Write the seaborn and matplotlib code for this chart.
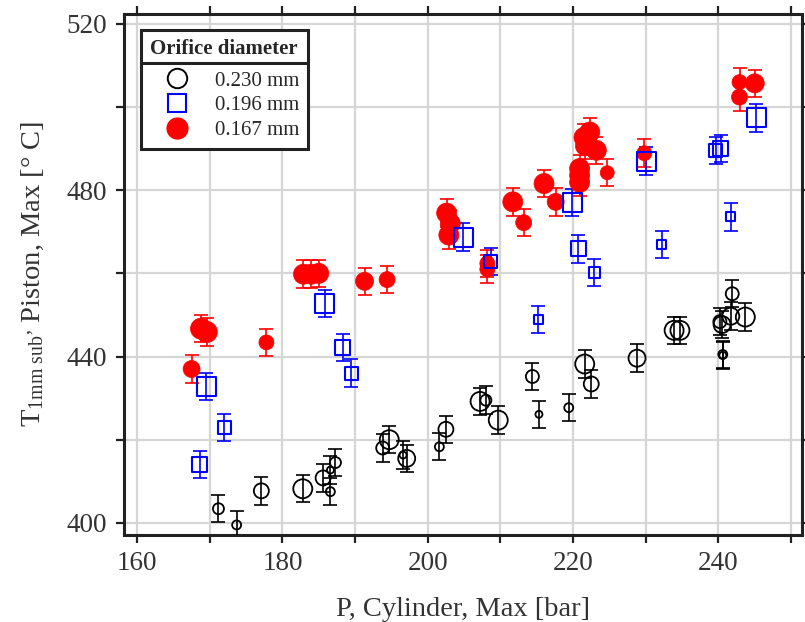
import numpy as np
import pandas as pd
import matplotlib
matplotlib.use("Agg")
import matplotlib.pyplot as plt
import seaborn as sns
from matplotlib.lines import Line2D

# ---------------- data ----------------
legend_title = "Orifice diameter"
diameters = ["0.230 mm", "0.196 mm", "0.167 mm"]

# 0.230 mm (open black circles)
p_230 = [171.2, 173.7, 177.1, 182.8, 185.6, 186.6, 186.6, 187.3, 193.8, 194.7,
         196.6, 197.1, 201.6, 202.5, 207.2, 208.0, 209.7, 214.4, 215.3, 219.4,
         221.6, 222.5, 228.8, 233.9, 234.7, 240.2, 240.5, 240.6, 240.6, 241.9,
         241.7, 243.7]
t_230 = [403.4, 399.5, 407.7, 408.2, 410.8, 407.5, 412.7, 414.5, 418.0, 420.0,
         416.3, 415.5, 418.3, 422.5, 429.2, 429.5, 424.7, 435.2, 426.1, 427.7,
         438.2, 433.4, 439.6, 446.3, 446.3, 448.4, 447.7, 440.5, 440.3, 455.1,
         449.7, 449.5]
e_230 = [3.3] * len(p_230)
w_230 = [2, 1.5, 3, 4, 3, 1.5, 1, 2, 2.5, 4,
         1, 3.5, 1.5, 3, 4, 2, 4, 2.5, 1, 1.5,
         4, 3, 3.5, 4, 4, 2.5, 3.5, 1.5, 1, 2.5,
         3.5, 4]

# 0.196 mm (open blue squares)
p_196 = [168.6, 169.5, 172.0, 185.8, 188.3, 189.5, 204.9, 208.7, 215.2, 219.9,
         220.7, 222.9, 230.1, 232.2, 239.6, 240.3, 241.7, 245.2]
t_196 = [414.0, 432.8, 423.0, 452.8, 442.2, 436.0, 468.7, 462.9, 448.9, 477.0,
         465.9, 460.2, 487.0, 467.0, 489.5, 490.0, 473.6, 497.4]
e_196 = [3.3] * len(p_196)
w_196 = [3, 4, 2.5, 4, 3, 2.5, 4, 2.5, 1.5, 4,
         3, 2, 4, 1.5, 2.5, 3, 1.5, 4]

# 0.167 mm (filled red circles)
p_167 = [167.5, 168.8, 169.6, 177.8, 182.9, 184.0, 185.0, 191.3, 194.4, 202.6,
         203.1, 202.9, 208.2, 208.2, 211.7, 213.2, 216.0, 217.6, 220.9, 220.9,
         220.9, 221.5, 222.3, 221.7, 223.2, 224.7, 229.8, 242.9, 242.9, 245.0]
t_167 = [437.0, 446.7, 445.9, 443.4, 459.8, 459.8, 460.0, 458.1, 458.5, 474.5,
         472.0, 469.2, 462.4, 461.0, 477.2, 472.2, 481.6, 477.2, 485.2, 483.6,
         481.9, 492.7, 494.0, 490.7, 489.6, 484.2, 488.9, 506.0, 502.4, 505.7]
e_167 = [3.3] * len(p_167)
w_167 = [3.5, 4.5, 4.5, 3, 4.25, 4.25, 4.25, 3.75, 3.25, 4.25,
         4.25, 4.25, 3, 3, 4.25, 3.25, 4.25, 3.5, 4.25, 4.25,
         4.25, 4.25, 4.25, 4.25, 4.25, 2.75, 3, 3, 3.25, 4]

x_ticks = list(range(160, 251, 10))
x_ticklabels = ["160", "", "180", "", "200", "", "220", "", "240", ""]
y_ticks = list(range(400, 521, 20))
y_ticklabels = ["400", "", "440", "", "480", "", "520"]

# ---------------- style ----------------
sns.set_theme(style="white")
plt.rcParams["font.family"] = ["Liberation Serif", "DejaVu Serif"]
plt.rcParams["mathtext.fontset"] = "custom"
plt.rcParams["mathtext.rm"] = "Liberation Serif"
plt.rcParams["mathtext.it"] = "Liberation Serif:italic"
plt.rcParams["mathtext.bf"] = "Liberation Serif:bold"

DPI = 100
fig = plt.figure(figsize=(8.05, 6.22), dpi=DPI)
ax = fig.add_axes([124 / 805, 1 - 534.5 / 622, (802 - 124) / 805, (534.5 - 13.5) / 622])


def size_map(levels):
    # marker diameter in px -> area in pt^2
    return {lv: ((3 + 4 * lv) * 72 / DPI) ** 2 for lv in sorted(set(levels))}


series = [
    # (p, t, err, w, marker, color, filled)
    (p_167, t_167, e_167, w_167, "o", "#ff0000", True),
    (p_196, t_196, e_196, w_196, "s", "#0000ff", False),
    (p_230, t_230, e_230, w_230, "o", "#000000", False),
]

for p, t, e, w, mk, col, filled in series:
    ax.errorbar(p, t, yerr=e, fmt="none", ecolor=col, elinewidth=1.2,
                capsize=5, capthick=1.2, zorder=3)
    df = pd.DataFrame({"p": p, "t": t, "w": w})
    sns.scatterplot(data=df, x="p", y="t", size="w", sizes=size_map(w),
                    marker=mk, legend=False, ax=ax, zorder=4)
    coll = ax.collections[-1]
    if filled:
        coll.set_facecolor(col)
        coll.set_edgecolor(col)
        coll.set_linewidth(0.5)
    else:
        coll.set_facecolor("none")
        coll.set_edgecolor(col)
        coll.set_linewidth(1.3 if mk == "o" else 1.5)

ax.set_xlim(158.2, 251.5)
ax.set_ylim(397.2, 522.5)
ax.set_xticks(x_ticks)
ax.set_xticklabels(x_ticklabels)
ax.set_yticks(y_ticks)
ax.set_yticklabels(y_ticklabels)
ax.grid(True, color="#d6d6d6", linewidth=1.6, zorder=0)
ax.set_axisbelow(True)
for s in ax.spines.values():
    s.set_color("#222222")
    s.set_linewidth(2.2)
    s.set_visible(True)
ax.tick_params(axis="both", which="major", direction="out", length=6, width=1.6,
               color="#222222", labelsize=19.5, labelcolor="#333333",
               top=True, right=True, bottom=True, left=True, pad=6)

ax.set_xlabel("P, Cylinder, Max [bar]", fontsize=20.5, color="#333333", labelpad=15)
ax.set_ylabel(r"T$_{\mathregular{1mm\ sub}}$$^{\mathregular{,}}$ Piston, Max [° C]",
              fontsize=20.5, color="#333333", labelpad=15)

handles = [
    Line2D([], [], ls="", marker="o", markersize=14, mfc="none", mec="black", mew=1.4),
    Line2D([], [], ls="", marker="s", markersize=13.5, mfc="none", mec="#0000ff", mew=1.5),
    Line2D([], [], ls="", marker="o", markersize=15, mfc="#ff0000", mec="#ff0000"),
]
leg = ax.legend(handles, diameters, title=legend_title, loc="upper left",
                bbox_to_anchor=(0.025, 0.968), borderaxespad=0, fontsize=15,
                title_fontproperties={"weight": "bold", "size": 15},
                frameon=True, fancybox=False, framealpha=1, edgecolor="#222222",
                labelspacing=0.25, handletextpad=0.45, handlelength=2.7,
                borderpad=0.4)
leg.get_frame().set_linewidth(2.2)
leg.set_zorder(10)
leg._legend_box.sep = 9

fig.canvas.draw()
r = fig.canvas.get_renderer()
fb = leg.get_frame().get_window_extent(r)
tb = leg.get_title().get_window_extent(r)
ysep = tb.y0 - 4
fig.add_artist(Line2D([fb.x0 / fig.bbox.width, fb.x1 / fig.bbox.width],
                      [ysep / fig.bbox.height, ysep / fig.bbox.height],
                      transform=fig.transFigure, color="#222222", linewidth=2.2,
                      zorder=20))

fig.savefig("out.png", dpi=DPI)
